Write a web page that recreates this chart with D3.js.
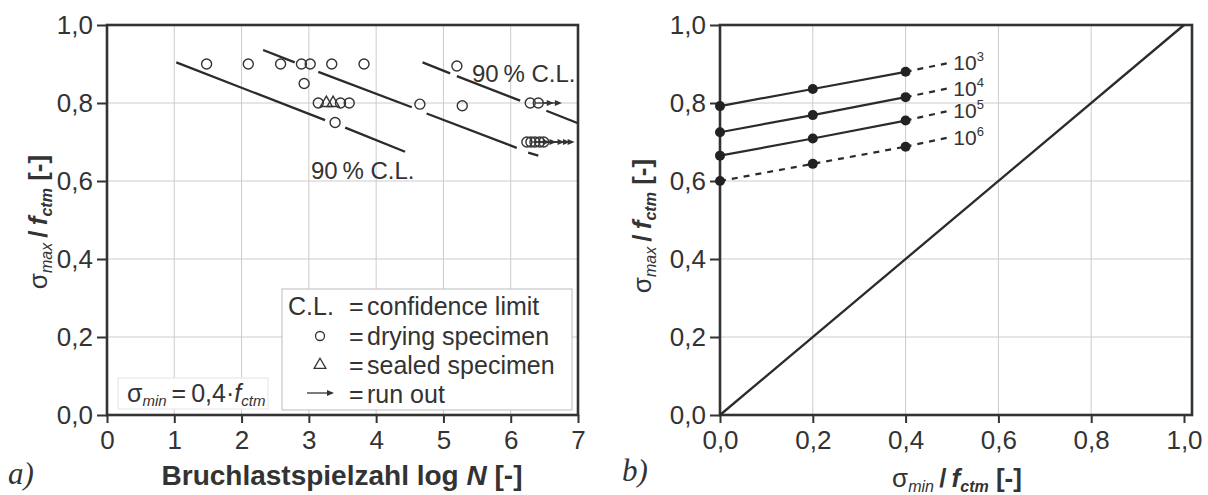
<!DOCTYPE html>
<html>
<head>
<meta charset="utf-8">
<script src="https://cdnjs.cloudflare.com/ajax/libs/d3/7.8.5/d3.min.js"></script>
<style>
    body { margin: 0; background: #fff; }
    svg text { font-family: "Liberation Sans", Arial, Helvetica, sans-serif; fill: #333; }
</style>
</head>
<body>
<div id="chart"></div>
<script>

// ---------- panel a) : fatigue tests, sigma_min = 0,4 f_ctm ----------
const dryLogN   = [1.48, 2.10, 2.58, 2.89, 3.02, 3.34, 3.82, 2.93, 3.14, 3.47, 3.60, 3.39, 5.20, 4.65, 5.28];
const dryStress = [0.90, 0.90, 0.90, 0.90, 0.90, 0.90, 0.90, 0.85, 0.80, 0.80, 0.80, 0.75, 0.895, 0.797, 0.793];
const sealedLogN   = [3.26, 3.36];
const sealedStress = [0.80, 0.80];
// run outs (drying specimens, test stopped)
const runOutLogN   = [6.29, 6.41, 6.24, 6.30, 6.36, 6.43, 6.49];
const runOutStress = [0.80, 0.80, 0.70, 0.70, 0.70, 0.70, 0.70];
const runOutEnd    = [6.64, 6.76, 6.58, 6.68, 6.80, 6.88, 6.95];
// regression line and 90 % confidence limits, drawn in pieces
const clLower = [[[1.03, 0.904], [3.24, 0.756]], [[3.54, 0.737], [4.43, 0.675]]];
const clMean  = [[[2.32, 0.936], [2.79, 0.904]], [[3.14, 0.880], [4.53, 0.789]],
                 [[4.75, 0.773], [6.09, 0.685]], [[6.26, 0.673], [6.41, 0.665]]];
const clUpper = [[[4.69, 0.904], [5.10, 0.876]], [[5.20, 0.869], [6.14, 0.806]],
                 [[6.53, 0.780], [7.00, 0.748]]];
const logNTicks   = [0, 1, 2, 3, 4, 5, 6, 7];
const stressTicks = [0, 0.2, 0.4, 0.6, 0.8, 1.0];

// ---------- panel b) : sigma_max over sigma_min ----------
const sminValues = [0, 0.2, 0.4];
const sminExt = 0.49;
const cycleExp = [3, 4, 5, 6];
const smax1e3 = [0.792, 0.836, 0.880];
const smax1e4 = [0.725, 0.769, 0.815];
const smax1e5 = [0.665, 0.709, 0.755];
const smax1e6 = [0.600, 0.644, 0.688];
const smaxExt = [0.902, 0.837, 0.779, 0.711];
const solidPart = [true, true, true, false];
const diagonal = [[0, 0], [1, 1]];
const sminTicks = [0, 0.2, 0.4, 0.6, 0.8, 1.0];


const de = d3.formatLocale({decimal: ",", thousands: ".", grouping: [3], currency: ["", " €"]});
const fmt1 = de.format(".1f");

const svg = d3.select("#chart").append("svg")
    .attr("width", 1208)
    .attr("height", 495);


// grid, ticks and frame shared by both panels
function drawAxes(g, x, y, xTicks, yTicks, xFormat, frameRight) {
    let [left] = x.range(), [bottom, top] = y.range();

    g.append("g").selectAll("line")
        .data(xTicks.slice(1, -1))
        .enter().append("line")
        .attr("x1", d => x(d)).attr("x2", d => x(d))
        .attr("y1", top).attr("y2", bottom)
        .attr("stroke", "#cccccc").attr("stroke-width", 1);
    g.append("g").selectAll("line")
        .data(yTicks.slice(1, -1))
        .enter().append("line")
        .attr("x1", left).attr("x2", frameRight)
        .attr("y1", d => y(d)).attr("y2", d => y(d))
        .attr("stroke", "#cccccc").attr("stroke-width", 1);

    let xAxis = g.append("g")
        .attr("transform", `translate(0, ${bottom})`)
        .call(d3.axisBottom(x).tickValues(xTicks).tickFormat(xFormat).tickSize(8).tickPadding(8));
    let yAxis = g.append("g")
        .attr("transform", `translate(${left}, 0)`)
        .call(d3.axisLeft(y).tickValues(yTicks).tickFormat(fmt1).tickSize(10).tickPadding(4));

    [xAxis, yAxis].forEach(a => {
        a.select(".domain").remove();
        a.selectAll(".tick line").attr("stroke", "#333").attr("stroke-width", 2);
        a.selectAll(".tick text").attr("fill", "#333").style("font-size", "26px")
            .style("font-family", "'Liberation Sans', Arial, sans-serif");
    });

    g.append("rect")
        .attr("x", left).attr("y", top)
        .attr("width", frameRight - left).attr("height", bottom - top)
        .attr("fill", "none").attr("stroke", "#333").attr("stroke-width", 2.6);
}

// sigma_x / f_ctm [-] title
function stressTitle(g, sub, tx, ty, rotate) {
    let t = g.append("text")
        .attr("transform", `translate(${tx}, ${ty})` + (rotate ? " rotate(-90)" : ""))
        .attr("text-anchor", "middle")
        .style("font-size", "26px");
    t.append("tspan").text("σ");
    t.append("tspan").text(sub).style("font-style", "italic").style("font-size", "16px").attr("dy", 5);
    t.append("tspan").text("\u2009/\u2009").style("font-weight", "bold").attr("dy", -5);
    t.append("tspan").text("f").style("font-weight", "bold").style("font-style", "italic");
    t.append("tspan").text("ctm").style("font-weight", "bold").style("font-style", "italic")
        .style("font-size", "16px").attr("dy", 5);
    t.append("tspan").text(" [-]").style("font-weight", "bold").attr("dy", -5);
}


class FatigueVis {

    constructor(_svg) {
        this.svg = _svg;
        this.initVis();
    }

    initVis() {
        let vis = this;

        vis.x = d3.scaleLinear().domain([0, 7]).range([107, 578]);
        vis.y = d3.scaleLinear().domain([0, 1]).range([415, 25]);
        vis.g = vis.svg.append("g").attr("class", "panel-a");

        drawAxes(vis.g, vis.x, vis.y, logNTicks, stressTicks, d => d, 578);

        vis.g.append("text")
            .attr("x", 342).attr("y", 485)
            .attr("text-anchor", "middle")
            .style("font-size", "28px").style("font-weight", "bold")
            .call(t => {
                t.append("tspan").text("Bruchlastspielzahl log ");
                t.append("tspan").text("N").style("font-style", "italic");
                t.append("tspan").text(" [-]");
            });
        stressTitle(vis.g, "max", 47, 222, true);

        vis.g.append("text")
            .attr("x", 8).attr("y", 484)
            .style("font-family", "'Liberation Serif', 'Times New Roman', serif")
            .style("font-style", "italic").style("font-size", "31px")
            .text("a)");

        vis.updateVis();
    }

    updateVis() {
        let vis = this;
        let line = d3.line().x(d => vis.x(d[0])).y(d => vis.y(d[1]));

        // legend boxes sit over the grid
        vis.g.append("rect")
            .attr("x", 118).attr("y", 378).attr("width", 150).attr("height", 31)
            .attr("fill", "#fff").attr("stroke", "#e4e4e4");
        vis.g.append("text")
            .attr("x", 127).attr("y", 402)
            .style("font-size", "25px")
            .call(t => {
                t.append("tspan").text("σ");
                t.append("tspan").text("min").style("font-style", "italic").style("font-size", "15px").attr("dy", 4);
                t.append("tspan").text("\u2009=\u20090,4·").attr("dy", -4);
                t.append("tspan").text("f").style("font-style", "italic");
                t.append("tspan").text("ctm").style("font-style", "italic").style("font-size", "15px").attr("dy", 4);
            });

        vis.g.append("rect")
            .attr("x", 282).attr("y", 289).attr("width", 290).attr("height", 121)
            .attr("fill", "#fff").attr("stroke", "#bbbbbb");
        let rows = [
            {key: "C.L.", label: "confidence limit", y: 315},
            {key: "circle", label: "drying specimen", y: 345},
            {key: "triangle", label: "sealed specimen", y: 374},
            {key: "arrow", label: "run out", y: 403}
        ];
        rows.forEach(r => {
            if (r.key === "C.L.") {
                vis.g.append("text").attr("x", 288).attr("y", r.y).style("font-size", "25px").text("C.L.");
            } else if (r.key === "circle") {
                vis.g.append("circle").attr("cx", 320).attr("cy", r.y - 9).attr("r", 4.5)
                    .attr("fill", "none").attr("stroke", "#333").attr("stroke-width", 1.3);
            } else if (r.key === "triangle") {
                vis.g.append("path").attr("d", d3.symbol(d3.symbolTriangle, 60)())
                    .attr("transform", `translate(320, ${r.y - 9})`)
                    .attr("fill", "none").attr("stroke", "#333").attr("stroke-width", 1.3);
            } else {
                vis.g.append("line").attr("x1", 307).attr("x2", 328).attr("y1", r.y - 10).attr("y2", r.y - 10)
                    .attr("stroke", "#333").attr("stroke-width", 1.3);
                vis.g.append("path").attr("d", `M${334},${r.y - 10}l-7,-3v6z`).attr("fill", "#333");
            }
            vis.g.append("text").attr("x", 349).attr("y", r.y).style("font-size", "25px").text("=");
            vis.g.append("text").attr("x", 367).attr("y", r.y).style("font-size", "25px").text(r.label);
        });

        // confidence limit lines
        [clLower, clMean, clUpper].forEach(segs => {
            vis.g.append("g").selectAll("path")
                .data(segs)
                .enter().append("path")
                .attr("d", line)
                .attr("fill", "none").attr("stroke", "#2b2b2b").attr("stroke-width", 2.3);
        });

        vis.g.append("text").attr("x", 311).attr("y", 179).style("font-size", "24px").text("90\u2009%\u00a0C.L.");
        vis.g.append("text").attr("x", 472).attr("y", 82).style("font-size", "24px").text("90\u2009%\u00a0C.L.");

        // run out arrows
        let ro = runOutLogN.map((d, i) => ({n: d, s: runOutStress[i], end: runOutEnd[i]}));
        vis.g.append("g").selectAll("line")
            .data(ro)
            .enter().append("line")
            .attr("x1", d => vis.x(d.n) + 5).attr("x2", d => vis.x(d.end) - 4)
            .attr("y1", d => vis.y(d.s)).attr("y2", d => vis.y(d.s))
            .attr("stroke", "#333").attr("stroke-width", 1.3);
        vis.g.append("g").selectAll("path")
            .data(ro)
            .enter().append("path")
            .attr("d", d => `M${vis.x(d.end)},${vis.y(d.s)}l-7,-3v6z`)
            .attr("fill", "#333");

        // specimens
        let dry = dryLogN.map((d, i) => [d, dryStress[i]])
            .concat(runOutLogN.map((d, i) => [d, runOutStress[i]]));
        vis.g.append("g").selectAll("circle")
            .data(dry)
            .enter().append("circle")
            .attr("cx", d => vis.x(d[0])).attr("cy", d => vis.y(d[1]))
            .attr("r", 5)
            .attr("fill", "none").attr("stroke", "#333").attr("stroke-width", 1.4);
        vis.g.append("g").selectAll("path")
            .data(sealedLogN.map((d, i) => [d, sealedStress[i]]))
            .enter().append("path")
            .attr("d", d3.symbol(d3.symbolTriangle, 62)())
            .attr("transform", d => `translate(${vis.x(d[0])}, ${vis.y(d[1])})`)
            .attr("fill", "none").attr("stroke", "#333").attr("stroke-width", 1.4);
    }
}


class SminVis {

    constructor(_svg) {
        this.svg = _svg;
        this.initVis();
    }

    initVis() {
        let vis = this;

        vis.x = d3.scaleLinear().domain([0, 1]).range([720, 1184]);
        vis.y = d3.scaleLinear().domain([0, 1]).range([415, 25]);
        vis.g = vis.svg.append("g").attr("class", "panel-b");

        drawAxes(vis.g, vis.x, vis.y, sminTicks, stressTicks, fmt1, 1192);

        stressTitle(vis.g, "max", 651, 226, true);
        stressTitle(vis.g, "min", 957, 487, false);

        vis.g.append("text")
            .attr("x", 622).attr("y", 481)
            .style("font-family", "'Liberation Serif', 'Times New Roman', serif")
            .style("font-style", "italic").style("font-size", "31px")
            .text("b)");

        vis.updateVis();
    }

    updateVis() {
        let vis = this;
        let line = d3.line().x(d => vis.x(d[0])).y(d => vis.y(d[1]));

        vis.g.append("path")
            .attr("d", line(diagonal))
            .attr("fill", "none").attr("stroke", "#2b2b2b").attr("stroke-width", 2.3);

        let series = [smax1e3, smax1e4, smax1e5, smax1e6].map((vals, i) => ({
            exp: cycleExp[i],
            pts: sminValues.map((s, j) => [s, vals[j]]),
            ext: [[sminValues[2], vals[2]], [sminExt, smaxExt[i]]],
            solid: solidPart[i]
        }));

        series.forEach(s => {
            vis.g.append("path")
                .attr("d", line(s.pts))
                .attr("fill", "none").attr("stroke", "#2b2b2b").attr("stroke-width", 2.2)
                .attr("stroke-dasharray", s.solid ? null : "6,6");
            vis.g.append("path")
                .attr("d", line(s.ext))
                .attr("fill", "none").attr("stroke", "#2b2b2b").attr("stroke-width", 2.2)
                .attr("stroke-dasharray", "6,6");
            vis.g.append("g").selectAll("circle")
                .data(s.pts)
                .enter().append("circle")
                .attr("cx", d => vis.x(d[0])).attr("cy", d => vis.y(d[1]))
                .attr("r", 5).attr("fill", "#222");
            // number of cycles 10^n, kept small enough not to collide
            vis.g.append("text")
                .attr("x", vis.x(sminExt) + 6)
                .attr("y", vis.y(s.ext[1][1]) + 7)
                .style("font-size", "21px")
                .call(t => {
                    t.append("tspan").text("10");
                    t.append("tspan").text(s.exp).style("font-size", "13px").attr("dy", -9);
                });
        });
    }
}

new FatigueVis(svg);
new SminVis(svg);

</script>
</body>
</html>
